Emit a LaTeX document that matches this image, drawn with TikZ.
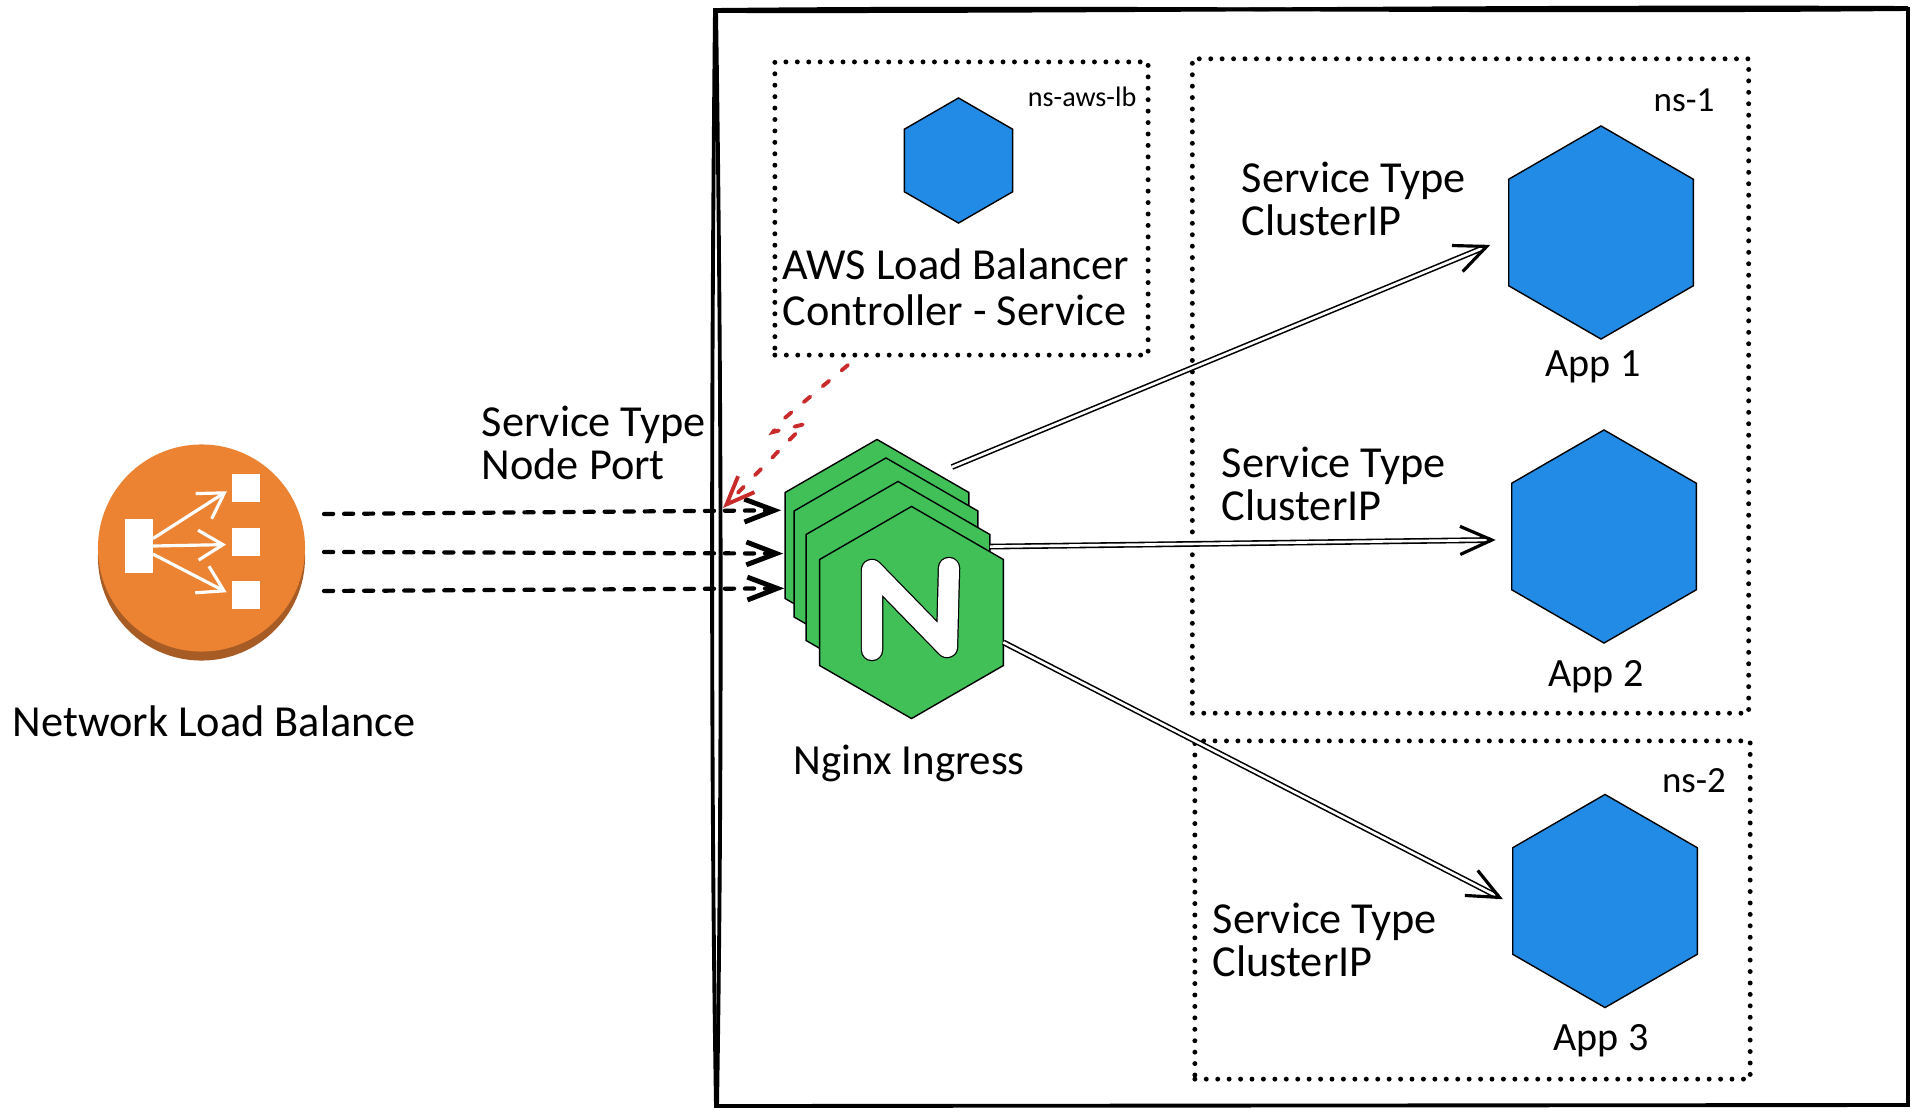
\documentclass[tikz,border=0pt]{standalone}
\usepackage{fontspec}
\setmainfont{Carlito}
\usetikzlibrary{arrows.meta,shapes.geometric}
\definecolor{nlborange}{HTML}{EC8333}
\definecolor{nlbdark}{HTML}{A85C25}
\definecolor{hexblue}{HTML}{228BE6}
\definecolor{hexgreen}{HTML}{40C057}
\definecolor{sketchred}{HTML}{C92A2A}
\tikzset{
	hexnode/.style={regular polygon,regular polygon sides=6,shape border rotate=30,draw=black,line width=0.4pt,inner sep=0pt,outer sep=0pt,minimum size=2.13cm},
	apphex/.style={hexnode,fill=hexblue},
	nginxhex/.style={hexnode,fill=hexgreen,minimum size=2.12cm},
	dotbox/.style={draw=black,line width=1.4pt,line cap=round,dash pattern=on 0pt off 3.25pt,inner sep=0pt,outer sep=0pt},
	framestroke/.style={line width=1.1pt},
	wire/.style={double=white,double distance=0.75pt,line width=0.45pt,-{Straight Barb[length=9pt,width=8pt,line width=0.9pt]}},
	dashwire/.style={line width=1.2pt,dash pattern=on 2.6pt off 3.1pt,line cap=round,-{Straight Barb[length=8.5pt,width=6.5pt,line width=1.4pt]}},
	redwire/.style={draw=sketchred,line width=1.1pt,dash pattern=on 2.4pt off 4.6pt,line cap=round,-{Straight Barb[length=8pt,width=6.5pt,line width=1.1pt]}},
	whitearrow/.style={draw=white,line width=0.9pt,-{Straight Barb[length=7pt,width=8.5pt,line width=0.9pt]}},
	whitebox/.style={fill=white,inner sep=0pt,outer sep=0pt},
	sketchtext/.style={font=\fontsize{12.6}{12}\selectfont,align=left,inner sep=0pt,text=black},
	applabel/.style={sketchtext,anchor=center,font=\fontsize{11.4}{11}\selectfont},
}
\begin{document}
\begin{tikzpicture}[x=0.01cm,y=-0.01cm]
	\useasboundingbox (0,0) rectangle (1918,1115);

	\draw[framestroke] (715,10) .. controls (1100,6) and (1500,13) .. (1908,9) -- (1908,1105) -- (716,1106) .. controls (711,800) and (711,400) .. cycle;
	\draw[framestroke] (716,10) .. controls (722,400) and (722,800) .. (717,1106);
	\draw[framestroke] (715,11) .. controls (1100,12) and (1500,6) .. (1908,8);

	\node[dotbox,minimum width=3.73cm,minimum height=2.93cm] (lbbox) at (961.5,208.5) {};
	\node[dotbox,minimum width=5.56cm,minimum height=6.54cm] (nsabox) at (1470.5,386) {};
	\node[dotbox,minimum width=5.55cm,minimum height=3.38cm] (nsbbox) at (1472.5,910) {};

	\node[apphex,minimum size=1.25cm] (lbhex) at (958.5,160.5) {};
	\node[apphex] (appa) at (1601,232.5) {};
	\node[apphex] (appb) at (1604,536.5) {};
	\node[apphex] (appc) at (1605,901) {};

	\node[nginxhex] (nginxa) at (877,545.5) {};
	\node[nginxhex] (nginxb) at (886,564) {};
	\coordinate (outa) at (952,467);
	\draw[wire,shorten >=0.2cm] (outa) -- (appa.183);
	\node[nginxhex] (nginxc) at (898,587.5) {};
	\draw[wire,shorten >=0.16cm] (nginxc.24) -- (appb.182);
	\node[nginxhex] (nginxd) at (911.5,612.5) {};
	\draw[wire,shorten >=0.11cm] (nginxd.-18) -- (appc.182);
	\draw[double=white,double distance=5.7pt,line width=0.35pt,line cap=round,line join=round] (872,650) -- (872,570) -- (947,647) -- (949,568);

	\node[circle,fill=nlbdark,inner sep=0pt,outer sep=0pt,minimum size=2.07cm] (nlbshadow) at (201.5,557) {};
	\node[circle,fill=nlborange,inner sep=0pt,outer sep=0pt,minimum size=2.07cm] (nlb) at (201.5,548) {};
	\node[whitebox,minimum width=0.28cm,minimum height=0.54cm] (nlbsrc) at (139,546) {};
	\node[whitebox,minimum width=0.28cm,minimum height=0.28cm] (nlbtop) at (246,488) {};
	\node[whitebox,minimum width=0.28cm,minimum height=0.28cm] (nlbmid) at (246,542) {};
	\node[whitebox,minimum width=0.28cm,minimum height=0.28cm] (nlblow) at (246,595) {};
	\draw[whitearrow,shorten >=0.06cm] (nlbsrc.28) -- (nlbtop.west);
	\draw[whitearrow,shorten >=0.06cm] (nlbsrc.east) -- (nlbmid.190);
	\draw[whitearrow,shorten >=0.06cm] (nlbsrc.-30) -- (nlblow.west);

	\coordinate (dasha) at (324,514);
	\coordinate (dashb) at (324,552);
	\coordinate (dashc) at (324,591);
	\draw[dashwire,shorten >=0.04cm] (dasha) -- (nginxa.159);
	\draw[dashwire,shorten >=0.02cm] (dashb) -- (nginxa.185);
	\draw[dashwire,shorten >=0.01cm] (dashc) -- (nginxa.205);

	\coordinate (redstart) at (848,365);
	\coordinate (redend) at (723,508);
	\draw[redwire] (redstart) -- (780,422) -- (773,432) -- (805,424) -- (redend);

	\node[sketchtext,anchor=west] (nlblabel) at (12,721) {Network Load Balance};
	\node[sketchtext,anchor=west] (nodeport) at (481,443) {Service Type\\Node Port};
	\node[sketchtext,anchor=west,font=\fontsize{12.2}{12}\selectfont] (nginxlabel) at (793,763) {Nginx Ingress};
	\node[sketchtext,anchor=west] (lblabel) at (782,287) {AWS Load Balancer\\[1pt]Controller - Service};
	\node[sketchtext,anchor=east,font=\fontsize{8}{8}\selectfont] (lbns) at (1137,97) {ns-aws-lb};
	\node[sketchtext,anchor=center,font=\fontsize{10}{10}\selectfont] (nsalabel) at (1684,100) {ns-1};
	\node[sketchtext,anchor=center,font=\fontsize{10.5}{10}\selectfont] (nsblabel) at (1694,781) {ns-2};
	\node[sketchtext,anchor=west] (svca) at (1241,199) {Service Type\\ClusterIP};
	\node[sketchtext,anchor=west] (svcb) at (1221,484) {Service Type\\ClusterIP};
	\node[sketchtext,anchor=west] (svcc) at (1212,940) {Service Type\\ClusterIP};
	\node[applabel] (appalabel) at (1593,367) {App 1};
	\node[applabel] (appblabel) at (1596,677) {App 2};
	\node[applabel] (appclabel) at (1601,1041) {App 3};
\end{tikzpicture}
\end{document}
